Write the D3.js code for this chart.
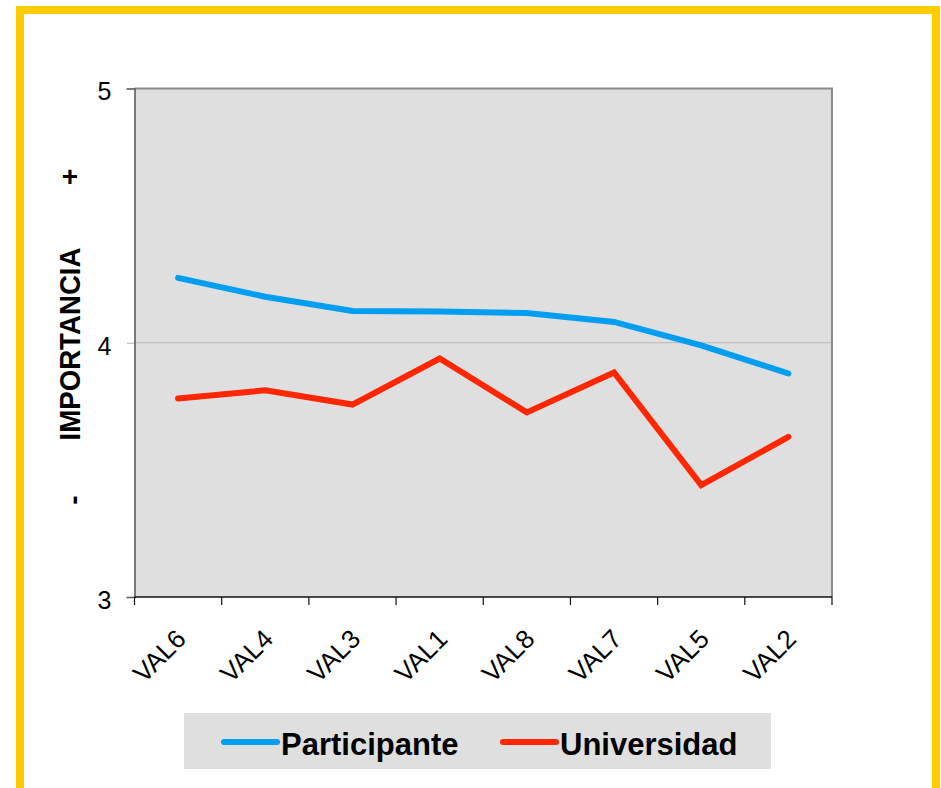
<!DOCTYPE html>
<html>
<head>
<meta charset="utf-8">
<script src="https://cdn.jsdelivr.net/npm/d3@7"></script>
<style>
  body { margin: 0; background: #fff; }
  svg { display: block; font-family: "Liberation Sans", Arial, sans-serif; }
</style>
</head>
<body>
<div id="chart"></div>
<script>
const categories = ['VAL6', 'VAL4', 'VAL3', 'VAL1', 'VAL8', 'VAL7', 'VAL5', 'VAL2'];
const participante = [4.255, 4.181, 4.125, 4.123, 4.117, 4.082, 3.990, 3.879];
const universidad = [3.781, 3.813, 3.757, 3.938, 3.726, 3.883, 3.440, 3.630];
const yTicks = [3, 4, 5];
const seriesNames = ['Participante', 'Universidad'];
const seriesColors = ['#009ef0', '#ff2600'];

const width = 941, height = 788;
const margin = { left: 134.5, right: 941 - 832, top: 88.5, bottom: 788 - 597 };

const svg = d3.select('#chart').append('svg')
  .attr('width', width)
  .attr('height', height);

// yellow frame
svg.append('rect')
  .attr('x', 20).attr('y', 10)
  .attr('width', 916).attr('height', 782)
  .attr('fill', '#fff')
  .attr('stroke', '#ffcc00')
  .attr('stroke-width', 8);

const x = d3.scaleBand()
  .domain(categories)
  .range([margin.left, width - margin.right]);

const y = d3.scaleLinear()
  .domain([3, 5])
  .range([height - margin.bottom, margin.top]);

// plot background
svg.append('rect')
  .attr('x', x.range()[0]).attr('y', y(5))
  .attr('width', x.range()[1] - x.range()[0])
  .attr('height', y(3) - y(5))
  .attr('fill', '#dfdfdf');

// gridline
svg.append('g').selectAll('line')
  .data(yTicks.filter(t => t !== 3 && t !== 5))
  .enter().append('line')
    .attr('x1', x.range()[0]).attr('x2', x.range()[1])
    .attr('y1', d => y(d)).attr('y2', d => y(d))
    .attr('stroke', '#b8b8b8')
    .attr('stroke-width', 1.2);

// frame top / right
svg.append('path')
  .attr('d', `M${x.range()[0]},${y(5)}H${x.range()[1]}V${y(3)}`)
  .attr('fill', 'none')
  .attr('stroke', '#8a8a8a')
  .attr('stroke-width', 2);

// y axis
const yAxis = svg.append('g')
  .attr('transform', `translate(${x.range()[0]},0)`)
  .call(d3.axisLeft(y).tickValues(yTicks).tickSize(8).tickPadding(15).tickFormat(d3.format('d')));
yAxis.select('.domain').attr('stroke', '#555').attr('stroke-width', 1.5);
yAxis.selectAll('.tick line').attr('stroke', '#666').attr('stroke-dasharray', '1,1');
yAxis.selectAll('.tick text')
  .attr('font-size', 25)
  .attr('dy', '0.45em')
  .attr('fill', '#000')
  .attr('font-family', '"Liberation Sans", Arial, sans-serif');

// x axis
const xTickPos = categories.map(c => x(c)).concat([x.range()[1]]);
const xAxis = svg.append('g')
  .attr('transform', `translate(0,${y(3)})`);
xAxis.append('line')
  .attr('x1', x.range()[0]).attr('x2', x.range()[1])
  .attr('stroke', '#111').attr('stroke-width', 1.5);
xAxis.selectAll('.xtick')
  .data(xTickPos)
  .enter().append('line')
    .attr('x1', d => d).attr('x2', d => d)
    .attr('y1', 0).attr('y2', 8)
    .attr('stroke', '#111').attr('stroke-width', 1.2);
xAxis.selectAll('.xlabel')
  .data(categories)
  .enter().append('text')
    .attr('transform', d => `translate(${x(d) + x.bandwidth() / 2 + 3},${37}) rotate(-45)`)
    .attr('text-anchor', 'end')
    .attr('dy', '0.35em')
    .attr('font-size', 26)
    .attr('fill', '#000')
    .text(d => d);

// y axis title
const titleX = 70;
svg.append('text')
  .attr('transform', `translate(${titleX + 10},${344}) rotate(-90)`)
  .attr('text-anchor', 'middle')
  .attr('font-size', 30)
  .attr('font-weight', 'bold')
  .attr('textLength', 193)
  .attr('lengthAdjust', 'spacingAndGlyphs')
  .text('IMPORTANCIA');
svg.append('text')
  .attr('x', titleX).attr('y', 176)
  .attr('text-anchor', 'middle')
  .attr('dy', '0.35em')
  .attr('font-size', 28)
  .attr('font-weight', 'bold')
  .text('+');
svg.append('text')
  .attr('transform', `translate(${titleX + 3},${500}) rotate(-90)`)
  .attr('text-anchor', 'middle')
  .attr('dy', '0.35em')
  .attr('font-size', 28)
  .attr('font-weight', 'bold')
  .text('-');

// lines
const line = d3.line()
  .x((d, i) => x(categories[i]) + x.bandwidth() / 2)
  .y(d => y(d));

[participante, universidad].forEach((values, i) => {
  svg.append('path')
    .datum(values)
    .attr('d', line)
    .attr('fill', 'none')
    .attr('stroke', seriesColors[i])
    .attr('stroke-width', 6)
    .attr('stroke-linecap', 'round')
    .attr('stroke-linejoin', 'miter');
});

// legend
const legend = svg.append('g');
legend.append('rect')
  .attr('x', 184).attr('y', 713)
  .attr('width', 587).attr('height', 56)
  .attr('fill', '#dfdfdf');
const legendX = [224, 503];
seriesNames.forEach((name, i) => {
  legend.append('line')
    .attr('x1', legendX[i]).attr('x2', legendX[i] + 53)
    .attr('y1', 742).attr('y2', 742)
    .attr('stroke', seriesColors[i])
    .attr('stroke-width', 6)
    .attr('stroke-linecap', 'round');
  legend.append('text')
    .attr('x', legendX[i] + 57).attr('y', 755)
    .attr('font-size', 31)
    .attr('font-weight', 'bold')
    .attr('fill', '#000')
    .text(name);
});
</script>
</body>
</html>
